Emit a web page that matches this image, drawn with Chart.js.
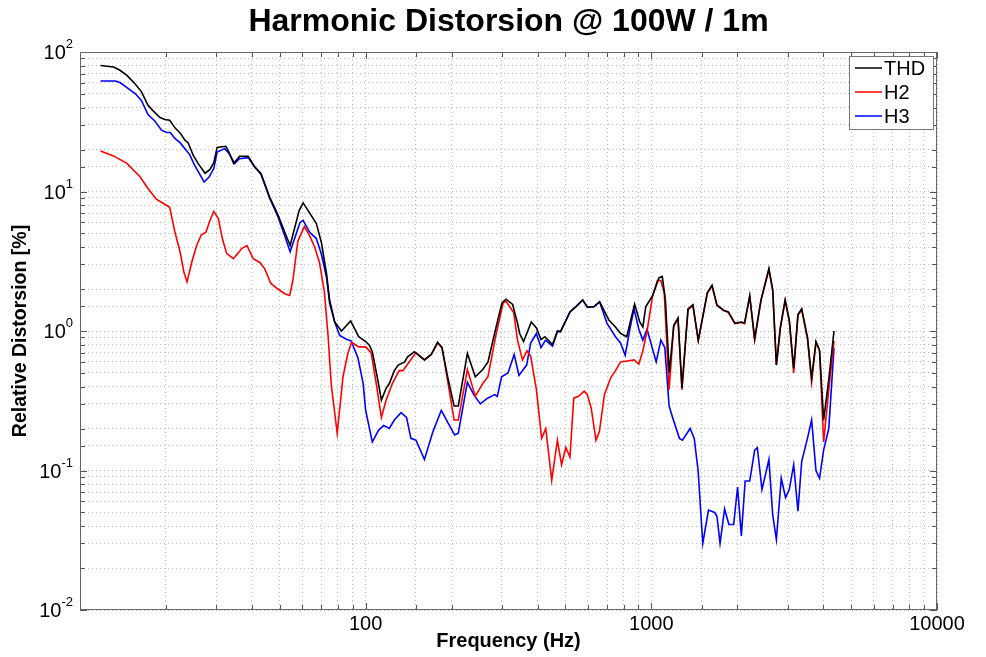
<!DOCTYPE html>
<html><head><meta charset="utf-8">
<script src="https://cdn.jsdelivr.net/npm/chart.js@4.4.1/dist/chart.umd.min.js"></script>
<style>html,body{margin:0;padding:0;background:#fff;overflow:hidden}</style>
</head><body>
<canvas id="c" width="986" height="657"></canvas>
<script>
const chartTitle = 'Harmonic Distorsion @ 100W / 1m';
const xAxisTitle = 'Frequency (Hz)';
const yAxisTitle = 'Relative Distorsion [%]';
const seriesNames = ['THD', 'H2', 'H3'];
const seriesColors = ['#000000', '#ff0000', '#0000ff'];
const xTickLabels = ['100', '1000', '10000'];
const yTickExponents = [2, 1, 0, -1, -2];

const thdHz = [11.8,13.1,13.8,14.6,15.6,16.4,17.3,18.0,19.0,19.8,20.6,21.5,22.4,23.3,23.9,24.9,25.9,27.4,28.5,29.4,30.2,32.4,33.2,34.5,36.2,38.8,40.9,43.0,46.1,49.3,52.1,54.4,58.5,60.4,63.7,67.2,70,72.9,74.8,77.9,82.3,88.6,94.5,100,103,105.5,109.5,113.5,118,121,126,130,137,140,148,160.6,169.7,178.5,185,194,204,211,227,242,257,268,284,300,310,327,340,346,357,380,396,411,424,451,469,481,519,546,575,597,629,659,710,749,780,820,874,911,934,956,1010,1063,1092,1120,1156,1198,1240,1280,1344,1398,1460,1570,1631,1697,1790,1860,1960,2066,2120,2210,2300,2420,2580,2660,2740,2830,2940,3040,3150,3260,3360,3520,3640,3770,3880,4010,4180,4360];
const thdPct = [80,78,74,68,59,52,41.5,38,34,32.8,32.4,28.6,26.3,23.3,22.4,18.2,15.9,13.5,14.4,16.1,20.7,21.1,19.2,15.9,17.9,17.9,15.0,13.5,9.1,6.8,5.1,4.1,7.3,8.3,7.0,5.9,4.3,2.6,1.66,1.16,1.0,1.18,0.91,0.84,0.79,0.71,0.48,0.32,0.39,0.42,0.52,0.57,0.6,0.65,0.71,0.62,0.68,0.83,0.76,0.46,0.29,0.29,0.69,0.47,0.53,0.6,1.0,1.59,1.69,1.55,1.14,0.96,0.84,1.16,1.05,0.87,0.91,0.8,1.0,0.99,1.37,1.5,1.67,1.48,1.49,1.62,1.2,1.07,0.96,0.91,1.56,1.16,1.07,1.49,1.79,2.4,2.46,1.67,0.5,1.1,1.24,0.39,1.44,1.54,0.86,1.88,2.13,1.54,1.41,1.37,1.14,1.16,1.14,1.79,0.88,1.67,2.8,1.97,0.57,1.07,1.67,1.2,0.54,1.31,1.44,0.9,0.46,0.84,0.73,0.23,0.45,1.0];

const h2Hz = [11.8,13.1,14.6,15.4,16.2,17.3,18.5,19.6,20.6,21.5,22.4,23.1,23.7,24.6,25.6,26.6,27.6,28.5,29.4,30.5,31.5,32.6,34.4,35.7,36.8,38.4,40.4,42.6,44.3,46.5,49.3,52.1,54.2,55.6,57.9,61,63.7,66.3,68.9,71.7,73.9,75.8,79.5,83.3,86.6,89.3,94.5,100,104.5,108.9,113.5,118,124,131,135,142,150,160.6,169.7,178.5,185,194,204,211,227,242,257,268,285,303,310,330,340,354,367,378,396,413,427,448,469,485,502,519,535,556,582,597,616,640,658,685,720,749,780,825,870,904,934,966,1010,1050,1080,1110,1154,1198,1240,1280,1344,1398,1460,1570,1631,1697,1790,1860,1960,2066,2120,2210,2300,2420,2580,2660,2740,2830,2940,3040,3150,3260,3360,3520,3640,3770,3880,4010,4180,4360];
const h2Pct = [19.5,18,15.9,14.2,12.8,10.5,8.8,8.2,7.7,5.1,3.7,2.65,2.25,3.1,4.1,4.9,5.1,6.2,7.2,6.4,4.6,3.6,3.3,3.6,3.9,4.1,3.3,3.1,2.8,2.2,2.0,1.85,1.8,2.3,4.4,5.6,4.8,4.0,3.1,1.9,0.91,0.41,0.185,0.47,0.69,0.83,0.77,0.77,0.70,0.42,0.24,0.32,0.42,0.52,0.52,0.6,0.7,0.62,0.68,0.82,0.76,0.43,0.23,0.23,0.53,0.34,0.42,0.47,0.91,1.59,1.63,1.35,0.86,0.62,0.72,0.66,0.38,0.17,0.2,0.085,0.165,0.11,0.146,0.125,0.33,0.34,0.37,0.35,0.28,0.165,0.19,0.35,0.46,0.52,0.6,0.61,0.62,0.58,0.72,1.0,1.78,2.3,2.3,1.86,0.38,1.08,1.22,0.38,1.42,1.52,0.85,1.86,2.1,1.52,1.4,1.36,1.13,1.15,1.13,1.77,0.86,1.65,2.75,1.95,0.57,1.05,1.65,1.18,0.5,1.3,1.42,0.88,0.43,0.83,0.72,0.16,0.38,0.85];

const h3Hz = [11.8,13.3,13.8,14.6,15.6,16.4,17.3,18.3,19.3,20.1,20.7,21.5,22.4,23.5,24.2,25.2,27.2,28.3,29.4,30.2,32.1,33.2,34.8,36.1,38.8,40.9,43,46.1,49.3,52.1,54.4,58.9,60.4,63.7,67.2,70,72.9,74.8,77.9,81.1,85.9,88.9,94,98,100,105.5,111,115.6,121,126,133,139,144,150,160.6,172,184,194,204.8,211,227,239,252,267,283,289,299,315,331,344,366,378,396,411,426,451,469,481,519,546,575,597,629,659,699,749,780,810,844,870,904,934,966,1040,1080,1115,1154,1187,1254,1285,1367,1413,1458,1514,1585,1666,1697,1740,1805,1868,1942,2004,2066,2130,2210,2300,2350,2440,2580,2660,2740,2850,2950,3040,3150,3260,3360,3520,3640,3770,3880,4010,4180,4360];
const h3Pct = [62,62,60.4,55.6,50.4,45,35.6,31.9,27.5,26.5,26.5,24,22.4,19.8,18.4,15.4,11.7,12.7,14.6,19.2,20.3,18.8,15.9,17.2,17.5,15.0,13.3,9.0,6.6,4.8,3.7,6.0,6.2,5.1,4.6,3.55,2.44,1.58,1.16,0.93,0.87,0.85,0.64,0.42,0.27,0.16,0.195,0.21,0.2,0.23,0.26,0.24,0.17,0.165,0.12,0.19,0.27,0.22,0.18,0.185,0.43,0.35,0.3,0.33,0.35,0.34,0.47,0.5,0.68,0.48,0.57,0.82,0.96,0.76,0.86,0.78,0.99,0.99,1.37,1.5,1.67,1.48,1.49,1.62,1.14,0.91,0.82,0.67,1.07,1.44,1.03,0.86,1.03,0.6,0.86,0.76,0.29,0.24,0.17,0.165,0.2,0.17,0.1,0.03,0.052,0.05,0.047,0.03,0.053,0.041,0.041,0.076,0.034,0.084,0.084,0.14,0.146,0.073,0.12,0.048,0.032,0.088,0.064,0.073,0.11,0.051,0.116,0.17,0.23,0.1,0.088,0.14,0.2,0.76];

const toXY = (xs, ys) => xs.map((x, i) => ({x: x, y: ys[i]}));
const isDecade = v => Math.abs(Math.log10(v) - Math.round(Math.log10(v))) < 1e-6;
const FONT = '"Liberation Sans", Arial, Helvetica, sans-serif';

const framePlugin = {
  id: 'frame',
  afterDraw(chart) {
    const ctx = chart.ctx;
    const a = chart.chartArea;
    const xs = chart.scales.x, ys = chart.scales.y;
    ctx.save();
    // title centred over the plot area
    ctx.fillStyle = '#000';
    ctx.font = 'bold 32px ' + FONT;
    ctx.textAlign = 'center';
    ctx.textBaseline = 'middle';
    ctx.fillText(chartTitle, (a.left + a.right) / 2, 22);
    // inward tick marks
    ctx.strokeStyle = '#555';
    ctx.lineWidth = 1;
    ctx.beginPath();
    xs.ticks.forEach(t => {
      const px = Math.round(xs.getPixelForValue(t.value)) + 0.5;
      const len = isDecade(t.value) ? 7 : 5;
      ctx.moveTo(px, a.bottom); ctx.lineTo(px, a.bottom - len);
      ctx.moveTo(px, a.top); ctx.lineTo(px, a.top + len);
    });
    ys.ticks.forEach(t => {
      const py = Math.round(ys.getPixelForValue(t.value)) + 0.5;
      const len = isDecade(t.value) ? 7 : 5;
      ctx.moveTo(a.left, py); ctx.lineTo(a.left + len, py);
      ctx.moveTo(a.right, py); ctx.lineTo(a.right - len, py);
    });
    ctx.stroke();
    // frame
    ctx.strokeStyle = '#666';
    ctx.strokeRect(Math.round(a.left) + 0.5, Math.round(a.top) + 0.5, Math.round(a.right - a.left) - 1, Math.round(a.bottom - a.top) - 1);
    // y tick labels 10^n
    ctx.fillStyle = '#000';
    ctx.textBaseline = 'alphabetic';
    yTickExponents.forEach(e => {
      const py = ys.getPixelForValue(Math.pow(10, e));
      const base = '10', ex = String(e);
      ctx.font = '20px ' + FONT;
      const bw = ctx.measureText(base).width;
      ctx.font = '13px ' + FONT;
      const ew = ctx.measureText(ex).width;
      const right = a.left - 7;
      ctx.font = '20px ' + FONT;
      ctx.textAlign = 'left';
      ctx.fillText(base, right - ew - bw, py + 7);
      ctx.font = '13px ' + FONT;
      ctx.fillText(ex, right - ew, py - 4);
    });
    // legend
    const lx = 849, ly = 56, lw = 84, lh = 73;
    ctx.fillStyle = '#fff';
    ctx.fillRect(lx, ly, lw, lh);
    ctx.strokeStyle = '#777';
    ctx.strokeRect(lx + 0.5, ly + 0.5, lw, lh);
    chart.data.datasets.forEach((ds, i) => {
      const ry = ly + 12 + i * 24;
      ctx.strokeStyle = ds.borderColor;
      ctx.lineWidth = 1.5;
      ctx.beginPath();
      ctx.moveTo(855, ry); ctx.lineTo(882, ry);
      ctx.stroke();
      ctx.fillStyle = '#000';
      ctx.font = '20px ' + FONT;
      ctx.textAlign = 'left';
      ctx.textBaseline = 'middle';
      ctx.fillText(ds.label, 884, ry + 1);
    });
    ctx.restore();
  }
};

const datasets = [
  {label: seriesNames[0], data: toXY(thdHz, thdPct), borderColor: seriesColors[0]},
  {label: seriesNames[1], data: toXY(h2Hz, h2Pct), borderColor: seriesColors[1]},
  {label: seriesNames[2], data: toXY(h3Hz, h3Pct), borderColor: seriesColors[2]}
].map(d => Object.assign(d, {borderWidth: 1.6, pointRadius: 0, tension: 0, fill: false}));

new Chart(document.getElementById('c'), {
  type: 'line',
  data: {datasets: datasets},
  plugins: [framePlugin],
  options: {
    responsive: false,
    animation: false,
    layout: {padding: {left: 0, right: 49, top: 52, bottom: 0}},
    plugins: {
      legend: {display: false},
      tooltip: {enabled: false},
      title: {display: false}
    },
    scales: {
      x: {
        type: 'logarithmic', min: 10, max: 10000,
        afterFit: s => { s.height = 47; },
        grid: {color: '#bbbbbb', lineWidth: 1, drawTicks: false},
        border: {display: false, dash: [1, 3]},
        ticks: {
          autoSkip: false, maxRotation: 0, padding: 2, color: '#000',
          font: {family: FONT, size: 20},
          callback: v => (isDecade(v) && xTickLabels.includes(String(Math.round(v)))) ? String(Math.round(v)) : ''
        },
        title: {display: true, text: xAxisTitle, color: '#000', font: {family: FONT, size: 20, weight: 'bold', lineHeight: 1.2}, padding: {top: 0, bottom: 4}}
      },
      y: {
        type: 'logarithmic', min: 0.01, max: 100,
        afterFit: s => { s.width = 80; },
        grid: {color: '#bbbbbb', lineWidth: 1, drawTicks: false},
        border: {display: false, dash: [1, 3]},
        ticks: {display: false, autoSkip: false},
        title: {display: true, text: yAxisTitle, color: '#000', font: {family: FONT, size: 19.5, weight: 'bold', lineHeight: 1.2}, padding: {top: 9.3, bottom: 0}}
      }
    }
  }
});
</script>
</body></html>
